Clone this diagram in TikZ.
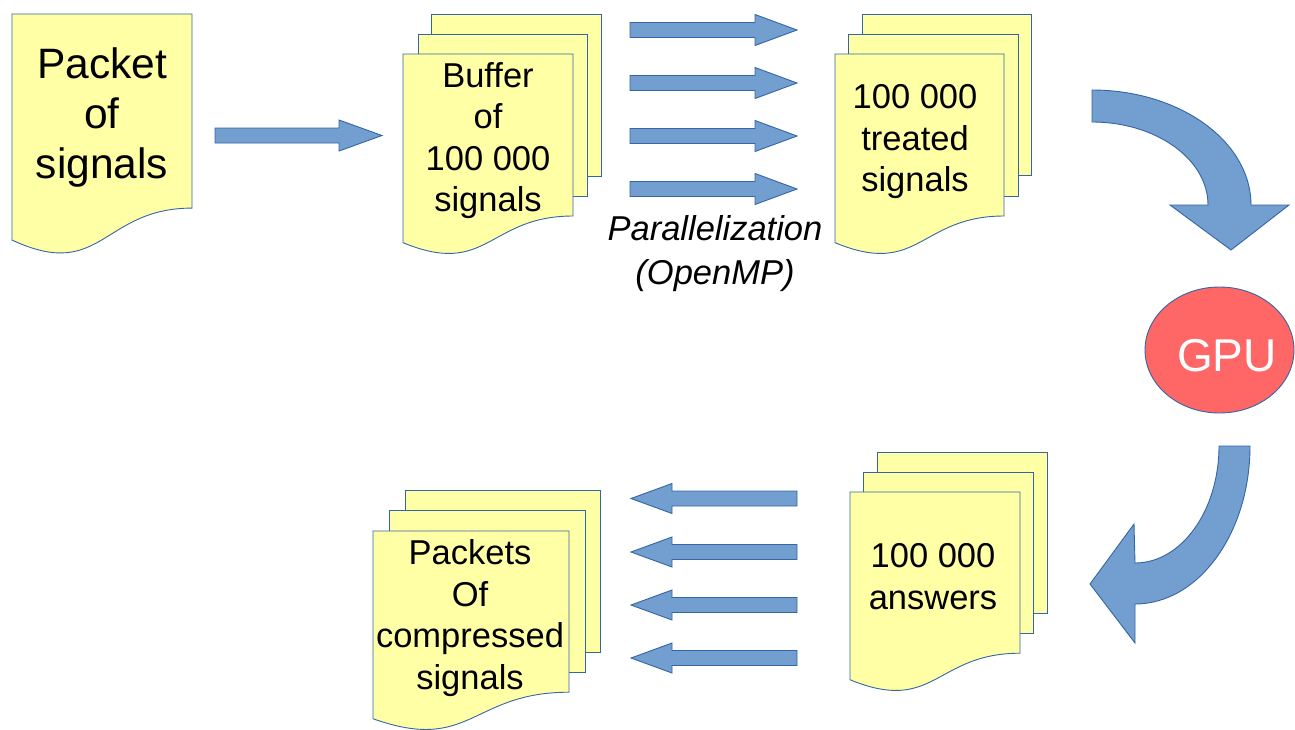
\documentclass[tikz,border=0pt]{standalone}
\usepackage{fontspec}
\setmainfont{Liberation Sans}
\usetikzlibrary{shapes.geometric}
\definecolor{docfill}{HTML}{FFFFA6}
\definecolor{edgeblue}{HTML}{3465A4}
\definecolor{arrowblue}{HTML}{729FCF}
\definecolor{gpured}{HTML}{FF6666}
\tikzset{
  docstyle/.style={draw=edgeblue, fill=docfill, line width=0.9pt, line join=miter},
  arrowstyle/.style={draw=edgeblue, fill=arrowblue, line width=0.9pt, line join=miter},
  txt/.style={align=center, inner sep=0pt, font=\fontsize{34.5}{41.5}\selectfont},
  bigtxt/.style={align=center, inner sep=0pt, font=\fontsize{42.5}{50}\selectfont},
}
\newcommand\docshape[4]{\draw[docstyle] (#1,#2) -- ({#1+#3},#2) -- ({#1+#3},{#2+0.802*#4}) .. controls ({#1+0.5*#3},{#2+0.802*#4}) and ({#1+0.5*#3},{#2+1.1075*#4}) .. (#1,{#2+0.934*#4}) -- cycle;}
\newcommand\sheet[4]{\draw[docstyle] (#1,#2) rectangle (#3,#4);}
\newcommand\blockarrow[6]{\draw[arrowstyle] (#1,{#4-#5}) -- (#2,{#4-#5}) -- (#2,{#4-#6}) -- (#3,#4) -- (#2,{#4+#6}) -- (#2,{#4+#5}) -- (#1,{#4+#5}) -- cycle;}
\begin{document}
\begin{tikzpicture}[x=1pt,y=-1pt]
\useasboundingbox (0,0) rectangle (1295,729);
% Packet of signals
\docshape{12}{14}{180}{242}
\node[bigtxt] (packet) at (102,117.5) {Packet\\of\\signals};
% arrow to buffer
\blockarrow{215}{339}{382}{135.5}{7.5}{15.5}
% Buffer stack
\sheet{431}{14}{601}{176}
\sheet{418}{34}{587}{196}
\docshape{403}{54}{170}{202}
\node[txt] (buffer) at (488,140.5) {Buffer\\of\\100 000\\signals};
% parallel arrows
\foreach \yc in {30,83,136,189}{\blockarrow{630}{755}{797}{\yc}{7.5}{15.5}}
\node[txt, font=\fontsize{34.5}{44}\selectfont\itshape] (par) at (715,254) {Parallelization\\(OpenMP)};
% treated stack
\sheet{862}{14}{1031}{175}
\sheet{848}{34}{1018}{196}
\docshape{835}{54}{169}{202}
\node[txt] (treated) at (915,142) {100 000\\treated\\signals};
% curved arrow top right
\draw[arrowstyle] (1092,90) .. controls (1179.8,90) and (1251,141.5) .. (1251,205)
  -- (1289,205) -- (1231,250) -- (1170,205) -- (1208,205)
  .. controls (1208,159.2) and (1156.1,122) .. (1092,122) -- cycle;
% GPU
\node[ellipse, draw=edgeblue, fill=gpured, line width=0.9pt, minimum width=149pt, minimum height=126pt, inner sep=0pt] (gpu) at (1219.5,350) {};
\node[inner sep=0pt, text=white, font=\fontsize{46}{52}\selectfont] (gputext) at (1227,356) {GPU};
% curved arrow bottom right
\draw[arrowstyle] (1250,446) .. controls (1250,533.3) and (1198.5,604) .. (1135,604)
  -- (1135,643) -- (1090,584) -- (1134,524) -- (1135,563)
  .. controls (1181.4,563) and (1219,510.6) .. (1219,446) -- cycle;
% answers stack
\sheet{877}{452}{1047}{613}
\sheet{863}{472}{1033}{633}
\docshape{850}{492}{170}{201}
\node[txt] (answers) at (933,576.5) {100 000\\answers};
% left arrows
\foreach \yc in {498.5,552,605,658}{\blockarrow{797}{672}{631}{\yc}{7.5}{15}}
% compressed stack
\sheet{405}{490}{600}{652}
\sheet{389}{510}{585}{672}
\docshape{373}{531}{196}{201}
\node[txt] (compressed) at (470,618) {Packets\\Of\\compressed\\signals};
\end{tikzpicture}
\end{document}
